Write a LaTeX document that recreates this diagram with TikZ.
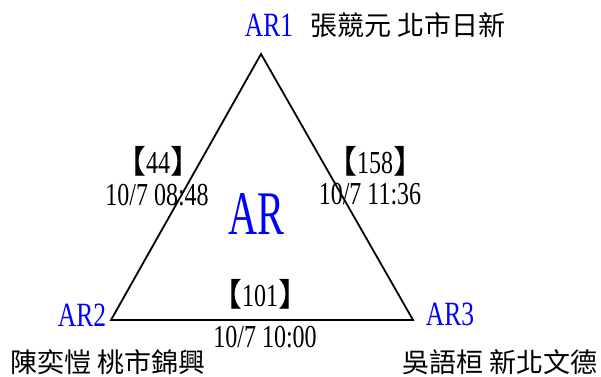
\documentclass[tikz,border=0pt]{standalone}
\usepackage{fontspec}
\setmainfont{Liberation Serif}[FakeStretch=0.75]
\newfontfamily\narrowfont{Liberation Serif}[FakeStretch=0.65]
\newfontfamily\cjk{Noto Sans CJK TC}
\usetikzlibrary{positioning}

\begin{document}
\begin{tikzpicture}[x=1pt, y=-1pt, every node/.style={inner sep=0pt, anchor=base},
    site/.style={text=blue, font=\fontsize{34}{38}\selectfont},
    person/.style={font=\cjk\fontsize{27}{30}\selectfont},
    count/.style={font=\fontsize{32}{36}\selectfont},
    stamp/.style={font=\fontsize{32}{36}\selectfont}]
    \useasboundingbox (0,0) rectangle (601,376);
    % triangle corners
    \coordinate (ar1) at (261,54);
    \coordinate (ar2) at (111,320);
    \coordinate (ar3) at (413,320);
    \draw[line width=1.8pt] (ar1) -- (ar2) -- (ar3) -- cycle;

    \node[text=blue, font=\narrowfont\fontsize{62}{66}\selectfont] (mid) at (256,234) {AR};

    \node[site] (n1) at (269,36) {AR1};
    \node[site] (n2) at (82,326) {AR2};
    \node[site] (n3) at (450,325) {AR3};
    \node[person] (p1) at (408,35) {張競元 北市日新};
    \node[person] (p2) at (108,372) {陳奕愷 桃市錦興};
    \node[person] (p3) at (500,372) {吳語桓 新北文德};

    % edge labels
    \node[count] (c12) at (158,173) {{\cjk【}44{\cjk】}};
    \node[stamp] (t12) at (157,205) {10/7 08:48};
    \node[count] (c13) at (375,173) {{\cjk【}158{\cjk】}};
    \node[stamp] (t13) at (370,204) {10/7 11:36};
    \node[count] (c23) at (260,306) {{\cjk【}101{\cjk】}};
    \node[stamp] (t23) at (265,347) {10/7 10:00};
\end{tikzpicture}
\end{document}
